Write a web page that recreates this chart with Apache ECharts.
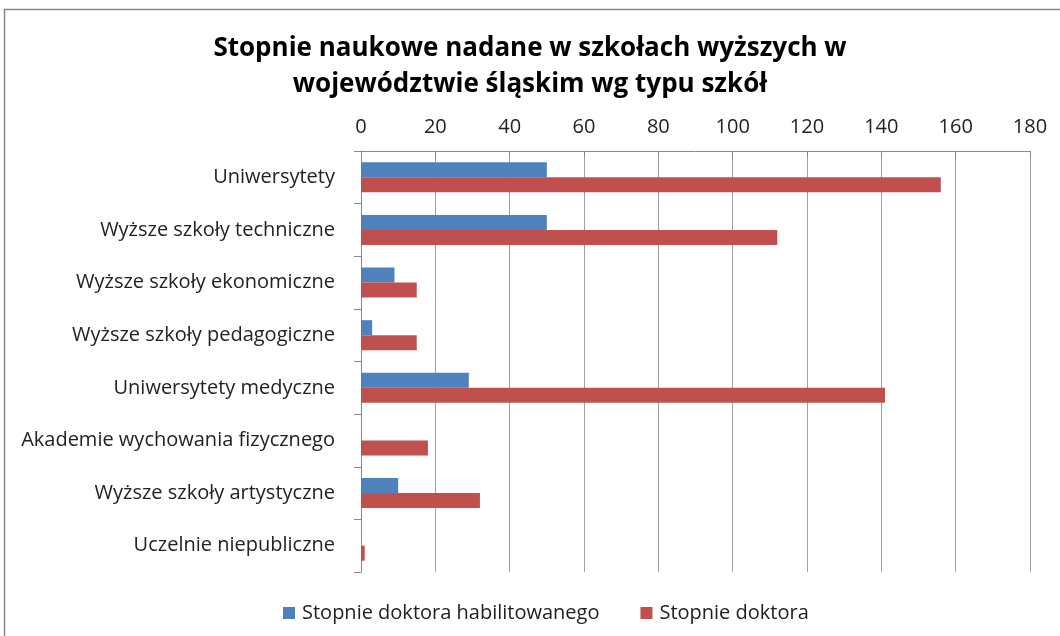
<!DOCTYPE html>
<html><head><meta charset="utf-8">
<script src="https://cdn.jsdelivr.net/npm/echarts@6/dist/echarts.min.js"></script>
<style>html,body{margin:0;padding:0;background:#fff}#c{width:1060px;height:636px}</style>
</head><body><div id="c"></div>
<script>
const categories = ["Uniwersytety","Wyższe szkoły techniczne","Wyższe szkoły ekonomiczne","Wyższe szkoły pedagogiczne","Uniwersytety medyczne","Akademie wychowania fizycznego","Wyższe szkoły artystyczne","Uczelnie niepubliczne"];
const habilitacja = [50, 50, 9, 3, 29, 0, 10, 0];
const doktorat = [156, 112, 15, 15, 141, 18, 32, 1];
const seriesNames = ["Stopnie doktora habilitowanego", "Stopnie doktora"];
const titleText = "Stopnie naukowe nadane w szkołach wyższych w\nwojewództwie śląskim wg typu szkół";

const font = "'Open Sans', 'Noto Sans', sans-serif";
const chart = echarts.init(document.getElementById('c'), null, {renderer:'canvas'});
chart.setOption({
  animation:false,
  backgroundColor:'#fff',
  graphic:[{type:'rect',shape:{x:4.5,y:9.5,width:1060,height:640},style:{fill:null,stroke:'#868686',lineWidth:1.5},silent:true}],
  title:{text:titleText,left:'center',top:26,textStyle:{fontFamily:font,fontSize:26,fontWeight:'bold',color:'#000',lineHeight:36}},
  legend:{bottom:8,left:278,itemWidth:12,itemHeight:12,itemGap:41,itemStyle:{borderWidth:0},icon:'rect',textStyle:{fontFamily:font,fontSize:20,color:'#222',padding:[0,0,0,2]},data:seriesNames},
  grid:{left:361,right:30,top:151,bottom:64,containLabel:false},
  xAxis:{type:'value',position:'top',min:0,max:180,interval:20,
    axisLine:{show:true,lineStyle:{color:'#888',width:1}},
    axisTick:{show:true,length:-7,lineStyle:{color:'#888'}},
    axisLabel:{fontFamily:font,fontSize:20,color:'#222',margin:14},
    splitLine:{show:true,lineStyle:{color:'#a0a0a0',width:1}}},
  yAxis:{type:'category',data:categories,inverse:true,
    axisLine:{show:true,lineStyle:{color:'#888'}},
    axisTick:{show:true,length:7,lineStyle:{color:'#888'}},
    axisLabel:{fontFamily:font,fontSize:20,color:'#222',margin:26}},
  series:[
    {name:seriesNames[0],type:'bar',data:habilitacja,barWidth:15,barGap:'0%',itemStyle:{color:'#4F81BD'}},
    {name:seriesNames[1],type:'bar',data:doktorat,barWidth:15,barGap:'0%',itemStyle:{color:'#C0504D'}}
  ]
});
</script></body></html>
